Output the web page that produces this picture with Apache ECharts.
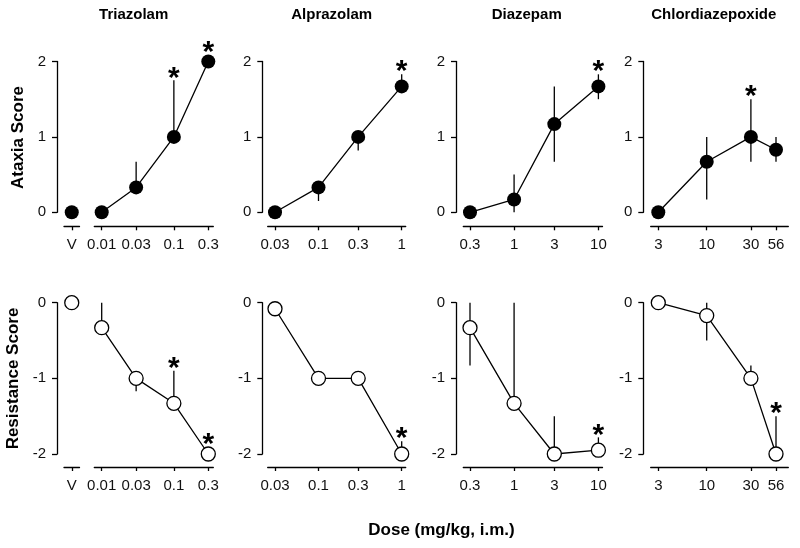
<!DOCTYPE html>
<html><head><meta charset="utf-8">
<script src="https://cdn.jsdelivr.net/npm/echarts@6/dist/echarts.min.js"></script>
<style>html,body{margin:0;padding:0;background:#fff}#c{width:800px;height:548px}</style>
</head><body><div id="c"></div>
<script>
// ---------------- DATA ----------------
const drugNames = ['Triazolam', 'Alprazolam', 'Diazepam', 'Chlordiazepoxide'];
const rowTitles = ['Ataxia Score', 'Resistance Score'];
const xAxisTitle = 'Dose (mg/kg, i.m.)';
const vehicleLabel = ['V'];

const triazolamDoses = [0.01, 0.03, 0.1, 0.3];
const alprazolamDoses = [0.03, 0.1, 0.3, 1];
const diazepamDoses = [0.3, 1, 3, 10];
const chlordiazepoxideDoses = [3, 10, 30, 56];

const triazolamTickLabels = ['0.01', '0.03', '0.1', '0.3'];
const alprazolamTickLabels = ['0.03', '0.1', '0.3', '1'];
const diazepamTickLabels = ['0.3', '1', '3', '10'];
const chlordiazepoxideTickLabels = ['3', '10', '30', '56'];

// Ataxia (top row)
const vehicleAtaxia = [0];
const triazolamAtaxia = [0, 0.33, 1.0, 2.0];
const triazolamAtaxiaErrLow = [0, 0.33, 1.0, 2.0];
const triazolamAtaxiaErrHigh = [0, 0.67, 1.75, 2.0];
const triazolamAtaxiaSig = [0, 0, 1, 1];

const alprazolamAtaxia = [0, 0.33, 1.0, 1.67];
const alprazolamAtaxiaErrLow = [0, 0.15, 0.82, 1.67];
const alprazolamAtaxiaErrHigh = [0, 0.33, 1.0, 1.83];
const alprazolamAtaxiaSig = [0, 0, 0, 1];

const diazepamAtaxia = [0, 0.17, 1.17, 1.67];
const diazepamAtaxiaErrLow = [0, 0, 0.67, 1.5];
const diazepamAtaxiaErrHigh = [0, 0.5, 1.67, 1.83];
const diazepamAtaxiaSig = [0, 0, 0, 1];

const chlordiazepoxideAtaxia = [0, 0.67, 1.0, 0.83];
const chlordiazepoxideAtaxiaErrLow = [0, 0.17, 0.67, 0.67];
const chlordiazepoxideAtaxiaErrHigh = [0, 1.0, 1.5, 1.0];
const chlordiazepoxideAtaxiaSig = [0, 0, 1, 0];

// Resistance (bottom row)
const vehicleResistance = [0];
const triazolamResistance = [-0.33, -1.0, -1.33, -2.0];
const triazolamResistanceErrLow = [-0.33, -1.17, -1.33, -2.0];
const triazolamResistanceErrHigh = [0, -1.0, -0.9, -2.0];
const triazolamResistanceSig = [0, 0, 1, 1];

const alprazolamResistance = [-0.08, -1.0, -1.0, -2.0];
const alprazolamResistanceErrLow = [-0.08, -1.0, -1.0, -2.0];
const alprazolamResistanceErrHigh = [-0.08, -1.0, -1.0, -1.83];
const alprazolamResistanceSig = [0, 0, 0, 1];

const diazepamResistance = [-0.33, -1.33, -2.0, -1.95];
const diazepamResistanceErrLow = [-0.83, -1.33, -2.0, -1.95];
const diazepamResistanceErrHigh = [0, 0, -1.5, -1.78];
const diazepamResistanceSig = [0, 0, 0, 1];

const chlordiazepoxideResistance = [0, -0.17, -1.0, -2.0];
const chlordiazepoxideResistanceErrLow = [0, -0.5, -1.0, -2.0];
const chlordiazepoxideResistanceErrHigh = [0, 0, -0.83, -1.5];
const chlordiazepoxideResistanceSig = [0, 0, 0, 1];

const yTicksAtaxia = [0, 2];
const yTicksResistance = [-2, 0];

// ---------------- LAYOUT ----------------
const FONT = '"Liberation Sans", Arial, Helvetica, sans-serif';
const TEXT = '#111';
const LW = 1.3;
const STAR_FONT = 30;

const rows = [
  { top: 61.5, height: 150.8, yr: yTicksAtaxia, xOffset: 14, filled: true,
    vehicle: vehicleAtaxia,
    sets: [
      [triazolamAtaxia, triazolamAtaxiaErrLow, triazolamAtaxiaErrHigh, triazolamAtaxiaSig],
      [alprazolamAtaxia, alprazolamAtaxiaErrLow, alprazolamAtaxiaErrHigh, alprazolamAtaxiaSig],
      [diazepamAtaxia, diazepamAtaxiaErrLow, diazepamAtaxiaErrHigh, diazepamAtaxiaSig],
      [chlordiazepoxideAtaxia, chlordiazepoxideAtaxiaErrLow, chlordiazepoxideAtaxiaErrHigh, chlordiazepoxideAtaxiaSig]
    ] },
  { top: 302.7, height: 151.3, yr: yTicksResistance, xOffset: 13, filled: false,
    vehicle: vehicleResistance,
    sets: [
      [triazolamResistance, triazolamResistanceErrLow, triazolamResistanceErrHigh, triazolamResistanceSig],
      [alprazolamResistance, alprazolamResistanceErrLow, alprazolamResistanceErrHigh, alprazolamResistanceSig],
      [diazepamResistance, diazepamResistanceErrLow, diazepamResistanceErrHigh, diazepamResistanceSig],
      [chlordiazepoxideResistance, chlordiazepoxideResistanceErrLow, chlordiazepoxideResistanceErrHigh, chlordiazepoxideResistanceSig]
    ] }
];

const panelDoses = [triazolamDoses, alprazolamDoses, diazepamDoses, chlordiazepoxideDoses];
const panelLabels = [triazolamTickLabels, alprazolamTickLabels, diazepamTickLabels, chlordiazepoxideTickLabels];
const panelX = [
  { axisX: 57,    lineL: 94.3,  lineR: 213.3, firstPx: 101.7, lastPx: 208.3, titleX: 133.7 },
  { axisX: 262.3, lineL: 267.7, lineR: 405.7, firstPx: 275,   lastPx: 401.7, titleX: 331.7 },
  { axisX: 456,   lineL: 463.3, lineR: 602.5, firstPx: 470,   lastPx: 598.4, titleX: 526.7 },
  { axisX: 643.3, lineL: 650.7, lineR: 788.3, firstPx: 658.3, lastPx: 776,   titleX: 713.8 }
];
const vehicleGrid = { left: 64, width: 15.5 };

const lg = Math.log10;

const grid = [], xAxis = [], yAxis = [], series = [];

function errRender(params, api) {
  const x = api.value(0), lo = api.value(1), hi = api.value(2), sig = api.value(3), v = api.value(4);
  const pLo = api.coord([x, lo]), pHi = api.coord([x, hi]), pV = api.coord([x, v]);
  const children = [];
  if (lo !== hi) {
    children.push({ type: 'line', shape: { x1: pLo[0], y1: pLo[1], x2: pHi[0], y2: pHi[1] },
      style: { stroke: '#000', lineWidth: LW } });
  }
  if (sig) {
    const c = Math.min(pHi[1], pLo[1], pV[1] - 7) - 9;
    children.push({ type: 'text', style: { text: '*', x: pV[0], y: c + 0.23 * STAR_FONT,
      align: 'center', verticalAlign: 'middle', font: 'bold ' + STAR_FONT + 'px ' + FONT, fill: '#000' } });
  }
  return { type: 'group', children };
}

rows.forEach((r, ri) => {
  // vehicle grid
  const gi = grid.length;
  grid.push({ left: vehicleGrid.left, width: vehicleGrid.width, top: r.top, height: r.height, outerBoundsMode: 'none' });
  xAxis.push({ type: 'category', gridIndex: gi, data: vehicleLabel, offset: r.xOffset,
    axisLine: { show: true, onZero: false, lineStyle: { color: '#000', width: LW } },
    axisTick: { show: true, alignWithLabel: true, length: 4, lineStyle: { color: '#000', width: LW } },
    axisLabel: { margin: 11, fontSize: 15, color: TEXT, fontFamily: FONT },
    splitLine: { show: false } });
  yAxis.push({ type: 'value', gridIndex: gi, min: r.yr[0], max: r.yr[1], show: false });
  series.push({ type: 'scatter', xAxisIndex: gi, yAxisIndex: gi, clip: false,
    symbol: 'circle', symbolSize: 14,
    itemStyle: r.filled ? { color: '#000', opacity: 1 } : { color: '#fff', borderColor: '#000', borderWidth: LW, opacity: 1 },
    emphasis: { disabled: true },
    data: [[0, r.vehicle[0]]], z: 3 });

  panelX.forEach((p, pi) => {
    const doses = panelDoses[pi];
    const labels = panelLabels[pi];
    const logD = doses.map(lg);
    const pxPerDec = (p.lastPx - p.firstPx) / (logD[logD.length - 1] - logD[0]);
    const xmin = logD[0] - (p.firstPx - p.lineL) / pxPerDec;
    const xmax = logD[logD.length - 1] + (p.lineR - p.lastPx) / pxPerDec;
    const g = grid.length;
    grid.push({ left: p.lineL, width: p.lineR - p.lineL, top: r.top, height: r.height, outerBoundsMode: 'none' });
    xAxis.push({ type: 'value', gridIndex: g, min: xmin, max: xmax, offset: r.xOffset,
      axisLine: { show: true, onZero: false, lineStyle: { color: '#000', width: LW } },
      axisTick: { show: true, length: 4, customValues: logD, lineStyle: { color: '#000', width: LW } },
      axisLabel: { show: true, customValues: logD, margin: 11, fontSize: 15, color: TEXT, fontFamily: FONT,
        formatter: (val) => {
          let best = 0, bd = Infinity;
          logD.forEach((d, i) => { const dd = Math.abs(d - val); if (dd < bd) { bd = dd; best = i; } });
          return labels[best];
        } },
      splitLine: { show: false } });
    yAxis.push({ type: 'value', gridIndex: g, min: r.yr[0], max: r.yr[1], interval: 1,
      offset: p.lineL - p.axisX,
      axisLine: { show: true, onZero: false, lineStyle: { color: '#000', width: LW } },
      axisTick: { show: true, length: 5, lineStyle: { color: '#000', width: LW } },
      axisLabel: { show: true, margin: 11, fontSize: 15, color: TEXT, fontFamily: FONT },
      splitLine: { show: false } });

    const [vals, lo, hi, sig] = r.sets[pi];
    series.push({ type: 'custom', xAxisIndex: g, yAxisIndex: g, clip: false, z: 2,
      renderItem: errRender,
      encode: { x: 0, y: [1, 2] },
      data: doses.map((d, i) => [lg(d), lo[i], hi[i], sig[i], vals[i]]) });
    series.push({ type: 'line', xAxisIndex: g, yAxisIndex: g, clip: false, z: 3,
      symbol: 'circle', symbolSize: 14, showSymbol: true,
      lineStyle: { color: '#000', width: LW },
      itemStyle: r.filled ? { color: '#000', opacity: 1 } : { color: '#fff', borderColor: '#000', borderWidth: LW, opacity: 1 },
      emphasis: { disabled: true },
      data: doses.map((d, i) => [lg(d), vals[i]]) });
  });
});

const graphic = [];
panelX.forEach((p, pi) => {
  graphic.push({ type: 'text', x: p.titleX, y: 14.5,
    style: { text: drugNames[pi], font: 'bold 15px ' + FONT, fill: '#000', align: 'center', verticalAlign: 'middle' } });
});
graphic.push({ type: 'text', x: 18.8, y: 137.5, rotation: Math.PI / 2,
  style: { text: rowTitles[0], font: 'bold 17px ' + FONT, fill: '#000', align: 'center', verticalAlign: 'middle' } });
graphic.push({ type: 'text', x: 13, y: 378.5, rotation: Math.PI / 2,
  style: { text: rowTitles[1], font: 'bold 17px ' + FONT, fill: '#000', align: 'center', verticalAlign: 'middle' } });
graphic.push({ type: 'text', x: 441.5, y: 530,
  style: { text: xAxisTitle, font: 'bold 17px ' + FONT, fill: '#000', align: 'center', verticalAlign: 'middle' } });

const chart = echarts.init(document.getElementById('c'), null, { renderer: 'canvas' });
chart.setOption({
  animation: false,
  backgroundColor: '#fff',
  grid, xAxis, yAxis, series, graphic
});
</script>
</body></html>
